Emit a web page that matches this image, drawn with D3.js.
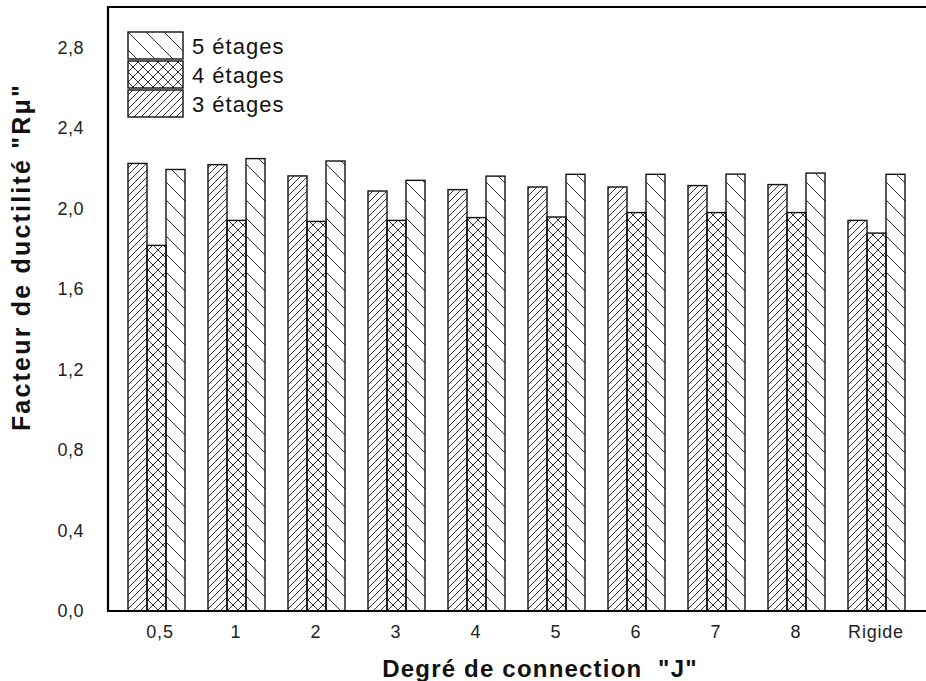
<!DOCTYPE html>
<html lang="en">
<head>
<meta charset="utf-8"/>
<script src="https://d3js.org/d3.v7.min.js"></script>
<style>
  body { margin: 0; background: #fff; }
  text { font-family: "Liberation Sans", Arial, sans-serif; }
</style>
</head>
<body>
<script>
    // Data
    var categories = ["0,5", "1", "2", "3", "4", "5", "6", "7", "8", "Rigide"];
    var series = ["3 étages", "4 étages", "5 étages"];
    var etages3 = [2.223, 2.217, 2.161, 2.086, 2.093, 2.106, 2.106, 2.113, 2.118, 1.940];
    var etages4 = [1.816, 1.940, 1.935, 1.940, 1.954, 1.957, 1.979, 1.979, 1.979, 1.877];
    var etages5 = [2.193, 2.247, 2.235, 2.139, 2.160, 2.169, 2.169, 2.170, 2.175, 2.169];
    var yTicks = [0, 0.4, 0.8, 1.2, 1.6, 2.0, 2.4, 2.8];
    var legendOrder = ["5 étages", "4 étages", "3 étages"];

    var values = {"3 étages": etages3, "4 étages": etages4, "5 étages": etages5};

    var W = 926, H = 681;
    var plotLeft = 108, plotTop = 7, plotBottom = 611;

    var svg = d3.select("body").append("svg")
        .attr("width", W)
        .attr("height", H);

    // hatch patterns
    var defs = svg.append("defs");
    function hatch(id, size, dirs) {
        var p = defs.append("pattern")
            .attr("id", id)
            .attr("patternUnits", "userSpaceOnUse")
            .attr("width", size)
            .attr("height", size);
        dirs.forEach(function(a) {
            var d;
            if (a === "/") {
                d = "M0," + size + " L" + size + ",0 M-1,1 L1,-1 M" + (size - 1) + "," + (size + 1) + " L" + (size + 1) + "," + (size - 1);
            } else {
                d = "M0,0 L" + size + "," + size + " M-1," + (size - 1) + " L1," + (size + 1) + " M" + (size - 1) + ",-1 L" + (size + 1) + ",1";
            }
            p.append("path").attr("d", d)
                .attr("stroke", "#333").attr("stroke-width", 1).attr("fill", "none");
        });
        return "url(#" + id + ")";
    }
    var fills = {
        "3 étages": hatch("h3", 7, ["/"]),
        "4 étages": hatch("h4", 10, ["/", "\\"]),
        "5 étages": hatch("h5", 18, ["\\"])
    };

    var y = d3.scaleLinear().domain([0, 3.0]).range([plotBottom, plotTop]);
    var x = d3.scaleBand().domain(categories).range([116, 916]).padding(0);
    var xs = d3.scaleBand().domain(series).range([0, 57]);

    var fmt = function(d) { return d.toFixed(1).replace(".", ","); };

    // y axis labels
    var ya = svg.append("g")
        .attr("transform", "translate(" + plotLeft + ",0)")
        .call(d3.axisLeft(y).tickValues(yTicks).tickFormat(fmt).tickSize(0).tickPadding(24));
    ya.select(".domain").remove();
    ya.selectAll("text")
        .style("font-family", "'Liberation Sans', Arial, sans-serif")
        .style("font-size", "18px")
        .style("letter-spacing", "0.5px")
        .attr("fill", "#222");

    // x axis labels
    var xa = svg.append("g")
        .attr("transform", "translate(0," + plotBottom + ")")
        .call(d3.axisBottom(x).tickSize(0).tickPadding(14));
    xa.select(".domain").remove();
    xa.selectAll("text")
        .style("font-family", "'Liberation Sans', Arial, sans-serif")
        .style("font-size", "18px")
        .style("letter-spacing", "0.8px")
        .attr("fill", "#222")
        .attr("dx", function(d) { return d === "0,5" ? 4 : 0; });

    // bars
    var groups = svg.selectAll("g.grp")
        .data(categories)
        .enter()
        .append("g")
        .attr("class", "grp")
        .attr("transform", function(d) { return "translate(" + (x(d) + x.bandwidth() / 2 - 28) + ",0)"; });

    groups.selectAll("rect")
        .data(function(d, i) { return series.map(function(s) { return {s: s, v: values[s][i]}; }); })
        .enter()
        .append("rect")
        .attr("x", function(d) { return xs(d.s); })
        .attr("width", xs.bandwidth())
        .attr("y", function(d) { return y(d.v); })
        .attr("height", function(d) { return plotBottom - y(d.v); })
        .attr("fill", function(d) { return fills[d.s]; })
        .attr("stroke", "#111")
        .attr("stroke-width", 1.4);

    // frame (right side is cut off in the original)
    svg.append("path")
        .attr("d", "M" + W + "," + plotTop + " L" + plotLeft + "," + plotTop + " L" + plotLeft + "," + plotBottom + " L" + W + "," + plotBottom)
        .attr("fill", "none")
        .attr("stroke", "#000")
        .attr("stroke-width", 2.2);

    // legend
    var lg = svg.append("g").attr("transform", "translate(128,32)");
    legendOrder.forEach(function(s, i) {
        lg.append("rect")
            .attr("x", 0)
            .attr("y", i * 29)
            .attr("width", 55)
            .attr("height", 27)
            .attr("fill", fills[s])
            .attr("stroke", "#111")
            .attr("stroke-width", 1.4);
        lg.append("text")
            .attr("x", 64)
            .attr("y", i * 29 + 14)
            .attr("dy", "0.35em")
            .style("font-size", "22px")
            .style("letter-spacing", "1px")
            .attr("fill", "#111")
            .text(s);
    });

    // axis titles
    svg.append("text")
        .attr("transform", "translate(30,257) rotate(-90)")
        .attr("text-anchor", "middle")
        .style("font-size", "25px")
        .style("font-weight", "bold")
        .style("letter-spacing", "2.2px")
        .attr("fill", "#111")
        .text("Facteur de ductilité \"Rμ\"");

    svg.append("text")
        .attr("x", 540)
        .attr("y", 677)
        .attr("text-anchor", "middle")
        .style("font-size", "24px")
        .style("font-weight", "bold")
        .style("letter-spacing", "1.2px")
        .style("white-space", "pre")
        .attr("fill", "#111")
        .text("Degré de connection  \"J\"");
</script>
</body>
</html>
